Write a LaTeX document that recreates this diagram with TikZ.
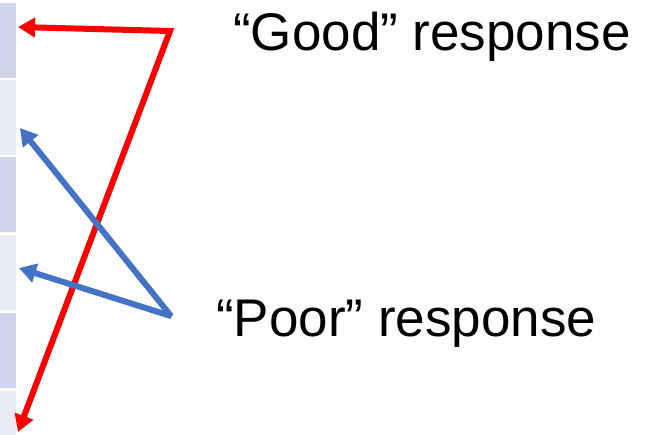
\documentclass[tikz,border=0pt]{standalone}
\usepackage{fontspec}
\setmainfont{Liberation Sans}
\usetikzlibrary{arrows.meta}
\definecolor{cellA}{HTML}{CFD5EA}
\definecolor{cellB}{HTML}{E9EBF5}
\definecolor{redline}{HTML}{FF0000}
\definecolor{blueline}{HTML}{4472C4}
\tikzset{
  cell/.style={anchor=north west,inner sep=0pt,minimum width=16pt,minimum height=75pt},
  redarrow/.style={draw=redline,line width=6pt,line join=miter,{Triangle[length=17pt,width=19pt]}-{Triangle[length=17pt,width=19pt]}},
  bluearrow/.style={draw=blueline,line width=6pt,line join=bevel,{Triangle[length=17pt,width=19pt]}-{Triangle[length=17pt,width=19pt]}},
  label/.style={anchor=base west,inner sep=0pt,font=\fontsize{53}{62}\selectfont}
}
\begin{document}
\begin{tikzpicture}[x=1pt,y=-1pt]
\useasboundingbox (0,0) rectangle (661,434);
\node[cell,fill=cellA] (c1) at (0,3) {};
\node[cell,fill=cellB] (c2) at (0,80) {};
\node[cell,fill=cellA] (c3) at (0,157) {};
\node[cell,fill=cellB] (c4) at (0,235) {};
\node[cell,fill=cellA] (c5) at (0,313) {};
\node[cell,fill=cellB,minimum height=45pt] (c6) at (0,391) {};
\coordinate (rc) at (170,31);
\coordinate (bc) at (171,316);
\coordinate (t1) at (18,27);
\coordinate (t2) at (18,432);
\coordinate (t3) at (20,128);
\coordinate (t4) at (19,268);
\draw[redarrow] (t1) -- (rc) -- (t2);
\draw[bluearrow] (t3) -- (bc) -- (t4);
\node[label] (good) at (233,50) {“Good” response};
\node[label] (poor) at (216,336) {“Poor” response};
\end{tikzpicture}
\end{document}
